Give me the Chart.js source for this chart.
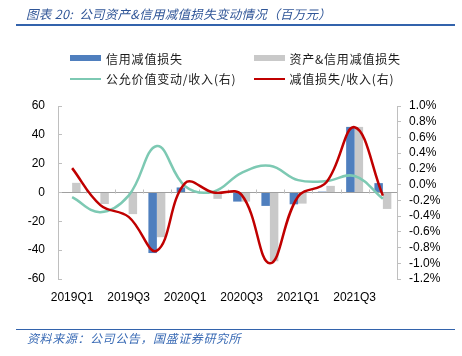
<!DOCTYPE html>
<html>
<head>
<meta charset="utf-8">
<script src="https://cdn.jsdelivr.net/npm/chart.js@4/dist/chart.umd.min.js"></script>
<style>
html,body{margin:0;padding:0;width:462px;height:356px;background:#fff;overflow:hidden;}
#wrap{position:relative;width:462px;height:356px;}
#chart{position:absolute;left:0;top:0;}
.title{position:absolute;left:26px;top:4px;font:italic 12.5px "Noto Sans CJK SC";color:#2F5597;white-space:nowrap;letter-spacing:0.3px;}
.rule{position:absolute;left:16px;width:439px;background:#3363AC;}
.source{position:absolute;left:27px;top:329px;font:italic 12px "Noto Sans CJK SC";color:#3A6BB5;white-space:nowrap;letter-spacing:0.6px;}
#legend{position:absolute;left:70px;top:48px;display:grid;grid-template-columns:183.5px auto;grid-auto-rows:20.5px;font:12px "Noto Sans CJK SC";color:#1a1a1a;}
.item{display:flex;align-items:center;white-space:nowrap;letter-spacing:0.8px;}
.sw{width:31px;margin-right:5px;flex:none;}
</style>
</head>
<body>
<div id="wrap">
  <canvas id="chart" width="462" height="356"></canvas>
  <div class="title">图表 20:&nbsp; 公司资产&amp;信用减值损失变动情况（百万元）</div>
  <div class="rule" style="top:24px;height:2px;"></div>
  <div id="legend"></div>
  <div class="rule" style="top:328.5px;height:1.5px;"></div>
  <div class="source">资料来源：公司公告，国盛证券研究所</div>
</div>
<script>
// ---- data ----
const categories = ['2019Q1','2019Q2','2019Q3','2019Q4','2020Q1','2020Q2','2020Q3','2020Q4','2021Q1','2021Q2','2021Q3','2021Q4'];
const xTickLabels = ['2019Q1','','2019Q3','','2020Q1','','2020Q3','','2021Q1','','2021Q3',''];
const creditImpairment = [0, 0, 0, -42.0, 3.5, 0, -6.3, -9.3, -8.2, 0.6, 45.5, 6.5];
const assetCreditImpairment = [6.7, -8.0, -15.0, -31.0, 0, -4.4, -6.3, -47.7, -7.7, 4.6, 45.5, -11.4];
const fairValueRatio = [-0.16, -0.35, -0.14, 0.49, -0.02, -0.09, 0.15, 0.24, 0.057, 0.045, 0.11, -0.18];
const impairmentRatio = [0.21, -0.26, -0.41, -0.84, 0.02, -0.10, -0.13, -1.00, -0.15, 0.03, 0.73, -0.14];
const leftTicks = [-60, -40, -20, 0, 20, 40, 60];
const rightTicks = [-1.2, -1.0, -0.8, -0.6, -0.4, -0.2, 0.0, 0.2, 0.4, 0.6, 0.8, 1.0];
const seriesNames = ['信用减值损失', '资产&信用减值损失', '公允价值变动/收入(右)', '减值损失/收入(右)'];

const AXIS = '#BFBFBF';
const tickFont = {family: '"Liberation Sans"', size: 12};

const zeroTicks = {
  id: 'zeroTicks',
  beforeDatasetsDraw(chart) {
    const xs = chart.scales.x, ys = chart.scales.y;
    const y0 = Math.round(ys.getPixelForValue(0)) + 0.5;
    const ctx = chart.ctx;
    ctx.save();
    ctx.strokeStyle = AXIS;
    ctx.lineWidth = 1;
    ctx.beginPath();
    for (let i = 1; i < categories.length; i++) {
      const x = Math.round(xs.getPixelForValue(i - 0.5)) + 0.5;
      ctx.moveTo(x, y0);
      ctx.lineTo(x, y0 - 4);
    }
    ctx.stroke();
    ctx.restore();
  }
};

const chart = new Chart(document.getElementById('chart'), {
  type: 'bar',
  data: {
    labels: categories,
    datasets: [
      {type: 'bar', label: seriesNames[0], data: creditImpairment, backgroundColor: '#4F7FBE', yAxisID: 'y', order: 2,
       barPercentage: 1, categoryPercentage: 0.6},
      {type: 'bar', label: seriesNames[1], data: assetCreditImpairment, backgroundColor: '#C9C9C9', yAxisID: 'y', order: 2,
       barPercentage: 1, categoryPercentage: 0.6},
      {type: 'line', label: seriesNames[2], data: fairValueRatio, borderColor: '#7DC9B3', backgroundColor: '#7DC9B3',
       borderWidth: 2.5, pointRadius: 0, tension: 0.4, yAxisID: 'y1', order: 1},
      {type: 'line', label: seriesNames[3], data: impairmentRatio, borderColor: '#C00000', backgroundColor: '#C00000',
       borderWidth: 2.5, pointRadius: 0, tension: 0.4, yAxisID: 'y1', order: 0}
    ]
  },
  options: {
    responsive: false,
    animation: false,
    devicePixelRatio: 1,
    layout: {padding: {top: 106, left: 0, right: 0, bottom: 47}},
    plugins: {legend: {display: false}, tooltip: {enabled: false}, title: {display: false}},
    scales: {
      x: {
        offset: true,
        grid: {display: false},
        border: {display: false},
        ticks: {autoSkip: false, maxRotation: 0, minRotation: 0, padding: 3, color: '#000', font: tickFont,
                callback: (v, i) => xTickLabels[i]},
        afterFit: s => { s.height = 30; }
      },
      y: {
        position: 'left',
        min: leftTicks[0], max: leftTicks[leftTicks.length - 1],
        afterBuildTicks: s => { s.ticks = leftTicks.map(v => ({value: v})); },
        grid: {drawOnChartArea: true, drawTicks: true, tickLength: -4,
               color: c => (c.tick && c.tick.value === 0) ? '#A0A0A0' : 'rgba(0,0,0,0)',
               tickColor: AXIS},
        border: {display: true, color: AXIS},
        ticks: {autoSkip: false, padding: 17, color: '#000', font: tickFont},
        afterFit: s => { s.width = 58; }
      },
      y1: {
        position: 'right',
        min: rightTicks[0], max: rightTicks[rightTicks.length - 1],
        afterBuildTicks: s => { s.ticks = rightTicks.map(v => ({value: v})); },
        grid: {drawOnChartArea: false, drawTicks: true, tickLength: 4, tickColor: AXIS},
        border: {display: true, color: AXIS},
        ticks: {autoSkip: false, padding: 8, color: '#000', font: tickFont, callback: v => Number(v).toFixed(1) + '%'},
        afterFit: s => { s.width = 65; }
      }
    }
  },
  plugins: [zeroTicks]
});

// HTML legend built from the chart's datasets
const legendEl = document.getElementById('legend');
chart.data.datasets.forEach(ds => {
  const item = document.createElement('div');
  item.className = 'item';
  const sw = document.createElement('span');
  sw.className = 'sw';
  if (ds.type === 'bar') { sw.style.height = '6px'; sw.style.background = ds.backgroundColor; }
  else { sw.style.height = '2.5px'; sw.style.background = ds.borderColor; }
  const tx = document.createElement('span');
  tx.textContent = ds.label;
  item.appendChild(sw); item.appendChild(tx);
  legendEl.appendChild(item);
});
</script>
</body>
</html>
